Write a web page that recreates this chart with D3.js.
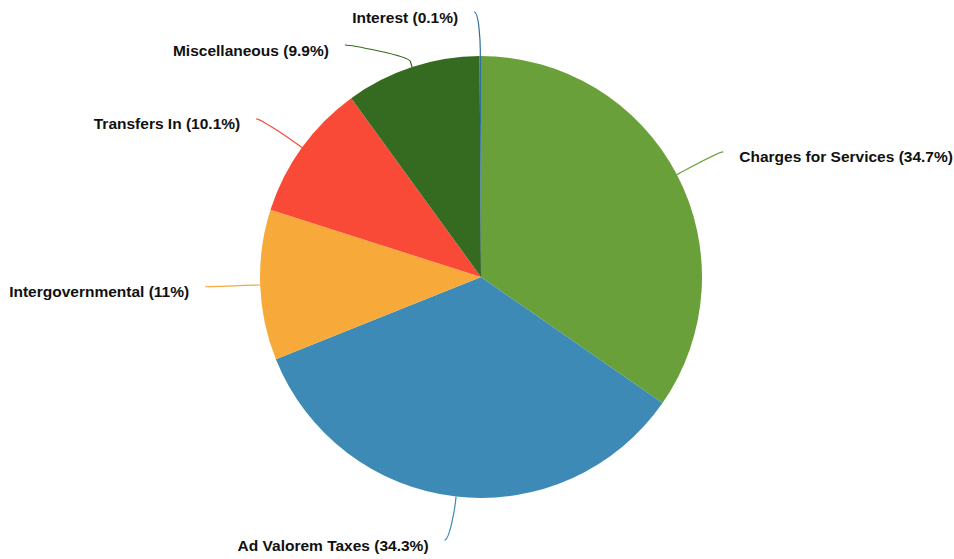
<!DOCTYPE html>
<html>
<head>
<meta charset="utf-8">
<script src="https://cdn.jsdelivr.net/npm/d3@7"></script>
<style>
  body { margin: 0; background: #fff; }
  svg { display: block; }
  .label { font-family: "Liberation Sans", Arial, Helvetica, sans-serif; font-weight: bold; font-size: 15.5px; fill: #111; }
</style>
</head>
<body>
<div id="chart"></div>
<script>
(function() {

var categories = ['Charges for Services', 'Ad Valorem Taxes', 'Intergovernmental', 'Transfers In', 'Miscellaneous', 'Interest'];
var values = [34.7, 34.3, 11, 10.1, 9.9, 0.1];
var colors = ['#6aa03a', '#3d8ab6', '#f7aa39', '#f94a37', '#356a21', '#2d6e9e'];

var width = 954,
    height = 559;

var cx = 481, cy = 277, radius = 221;
var labelDistance = 49;   // distance of label anchor from pie edge
var breakOffset = 6;      // where the connector bends, outside the edge
var minGap = 33;          // vertical spacing between stacked labels
var topLimit = 12, bottomLimit = 540;

var data = categories.map(function(c, i) {
    return {name: c, value: values[i], color: colors[i]};
});

var svg = d3.select('#chart')
    .append('svg')
    .attr('width', width)
    .attr('height', height);

var pie = d3.pie()
    .sort(null)
    .value(function(d) { return d.value; });

var arc = d3.arc()
    .innerRadius(0)
    .outerRadius(radius);

var arcs = pie(data);

var g = svg.append('g')
    .attr('transform', 'translate(' + cx + ',' + cy + ')');

g.selectAll('path.slice')
    .data(arcs)
    .join('path')
    .attr('class', 'slice')
    .attr('d', arc)
    .attr('fill', function(d) { return d.data.color; });

//label positions, highcharts-like
var R = radius + labelDistance;
var labels = arcs.map(function(d) {
    var a = (d.startAngle + d.endAngle) / 2;
    var sin = Math.sin(a), cos = -Math.cos(a);
    var left = a > Math.PI;
    return {
        d: d,
        left: left,
        edge: [cx + sin * radius, cy + cos * radius],
        brk: [cx + sin * (radius + breakOffset), cy + cos * (radius + breakOffset)],
        x: cx + sin * R + (left ? -6 : 3),
        y: cy + cos * R
    };
});

//stack labels on each side so they do not overlap
[true, false].forEach(function(side) {
    var list = labels.filter(function(l) { return l.left === side; })
        .sort(function(a, b) { return a.y - b.y; });
    var prev = -Infinity;
    list.forEach(function(l) {
        var y = Math.max(l.y, topLimit, prev + minGap);
        y = Math.min(y, bottomLimit);
        if (y - l.y > 5) {
            var dy = y - cy;
            l.x = cx + (side ? -1 : 1) * (Math.sqrt(Math.max(R * R - dy * dy, 0)) - 2);
        }
        l.y = y;
        prev = y;
    });
});

//connectors
svg.selectAll('path.connector')
    .data(labels)
    .join('path')
    .attr('class', 'connector')
    .attr('fill', 'none')
    .attr('stroke', function(l) { return l.d.data.color; })
    .attr('stroke-width', 1.2)
    .attr('d', function(l) {
        var p = d3.path();
        p.moveTo(l.x, l.y);
        p.bezierCurveTo(
            l.x + (l.left ? 5 : -5), l.y,
            2 * l.brk[0] - l.edge[0], 2 * l.brk[1] - l.edge[1],
            l.brk[0], l.brk[1]);
        p.lineTo(l.edge[0], l.edge[1]);
        return p.toString();
    });

svg.selectAll('text.label')
    .data(labels)
    .join('text')
    .attr('class', 'label')
    .attr('x', function(l) { return l.x + (l.left ? -16 : 16); })
    .attr('y', function(l) { return l.y + 5; })
    .attr('dominant-baseline', 'central')
    .attr('text-anchor', function(l) { return l.left ? 'end' : 'start'; })
    .text(function(l) { return l.d.data.name + ' (' + l.d.data.value + '%)'; });

})();
</script>
</body>
</html>
